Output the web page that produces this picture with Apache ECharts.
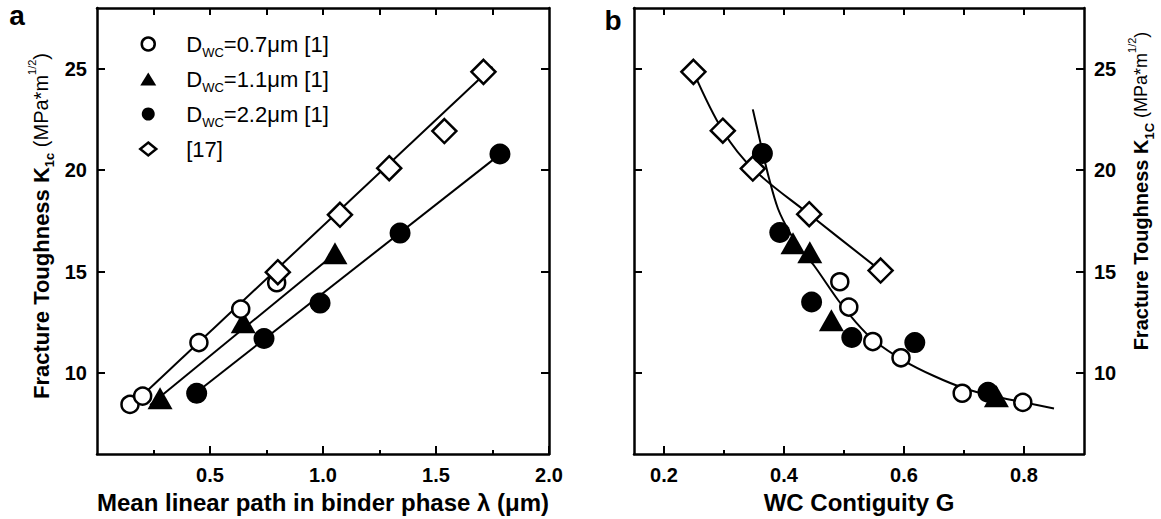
<!DOCTYPE html>
<html><head><meta charset="utf-8">
<script src="https://cdn.jsdelivr.net/npm/echarts@6/dist/echarts.min.js"></script>
<style>html,body{margin:0;padding:0;background:#fff}#c{width:1161px;height:519px}</style>
</head><body><div id="c"></div>
<script>
const FONT = '"Liberation Sans", Arial, Helvetica, sans-serif';

// ---- Panel a : K1c vs mean linear path (lambda, um) ----
const aOpen    = [[0.146, 8.45], [0.202, 8.86], [0.451, 11.5], [0.636, 13.15], [0.795, 14.45]];
const aTri     = [[0.279, 8.75], [0.647, 12.5], [1.053, 15.9]];
const aFilled  = [[0.441, 9.0], [0.739, 11.7], [0.987, 13.45], [1.341, 16.9], [1.783, 20.8]];
const aDiamond = [[0.80, 14.97], [1.075, 17.8], [1.293, 20.1], [1.537, 21.93], [1.71, 24.85]];
const aFitUpper  = [[0.22, 9.1], [1.75, 25.1]];
const aFitMiddle = [[0.235, 8.42], [1.06, 15.95]];
const aFitLower  = [[0.441, 9.05], [1.783, 20.78]];

// ---- Panel b : K1c vs WC contiguity G ----
const bDiamond = [[0.249, 24.85], [0.298, 21.95], [0.348, 20.08], [0.442, 17.83], [0.561, 15.05]];
const bFilled  = [[0.364, 20.83], [0.393, 16.93], [0.446, 13.5], [0.513, 11.75], [0.618, 11.5], [0.74, 9.05]];
const bTri     = [[0.415, 16.4], [0.443, 15.95], [0.479, 12.6], [0.754, 8.85]];
const bOpen    = [[0.493, 14.5], [0.508, 13.25], [0.548, 11.55], [0.595, 10.75], [0.697, 9.0], [0.798, 8.55]];
const bFitDiamond = [[0.249, 24.85], [0.298, 21.95], [0.348, 20.08], [0.442, 17.83], [0.561, 15.05]];
const bFitMain = [[0.348, 23.0], [0.362, 21.2], [0.375, 19.6], [0.39, 18.1], [0.41, 16.9], [0.43, 16.0],
                  [0.45, 15.3], [0.49, 13.6], [0.52, 12.5], [0.55, 11.6], [0.60, 10.6], [0.65, 9.85],
                  [0.70, 9.25], [0.75, 8.85], [0.80, 8.55], [0.85, 8.25]];

// ---- ticks ----
const xTicksA = [0.5, 1.0, 1.5, 2.0];
const xMinorA = [0.25, 0.75, 1.25, 1.75];
const xTopA   = [0.25, 0.5, 0.75, 1.0, 1.25, 1.5, 1.75];
const xTicksB = [0.2, 0.4, 0.6, 0.8];
const xMinorB = [0.3, 0.5, 0.7];
const xTopB   = [0.2, 0.3, 0.4, 0.5, 0.6, 0.7, 0.8];
const yTicks  = [10, 15, 20, 25];

const legendNames = ['DWC=0.7μm [1]', 'DWC=1.1μm [1]', 'DWC=2.2μm [1]', '[17]'];
const xTitleA = 'Mean linear path in binder phase λ (μm)';
const xTitleB = 'WC Contiguity G';

const BLACK = '#000';
const lineSty = {color: BLACK, width: 2.5};
const tickSty = {color: BLACK, width: 2};
const labelSty = {fontSize: 20, fontWeight: 'bold', color: BLACK, fontFamily: FONT};

function xMain(grid, min, max, ticks, name) {
  return {type: 'value', gridIndex: grid, min, max, position: 'bottom',
    name, nameLocation: 'middle', nameGap: 43,
    nameTextStyle: {fontSize: 24, fontWeight: 'bold', color: BLACK, fontFamily: FONT, verticalAlign: 'middle', lineHeight: 24},
    axisLine: {show: true, onZero: false, lineStyle: lineSty},
    axisTick: {show: true, inside: true, length: 8, lineStyle: tickSty, customValues: ticks},
    axisLabel: Object.assign({show: true, customValues: ticks, margin: 21, verticalAlign: 'middle',
      formatter: v => Number(v).toFixed(1)}, labelSty),
    splitLine: {show: false}};
}
function xExtra(grid, min, max, ticks, pos, len, showLine) {
  return {type: 'value', gridIndex: grid, min, max, position: pos,
    axisLine: {show: showLine, onZero: false, lineStyle: lineSty},
    axisTick: {show: true, inside: true, length: len, lineStyle: tickSty, customValues: ticks},
    axisLabel: {show: false}, splitLine: {show: false}};
}
function yAx(grid, pos, labels) {
  return {type: 'value', gridIndex: grid, min: 6, max: 28, position: pos,
    axisLine: {show: true, onZero: false, lineStyle: lineSty},
    axisTick: {show: true, inside: true, length: 8, lineStyle: tickSty, customValues: yTicks},
    axisLabel: Object.assign({show: labels, customValues: yTicks, margin: 10}, labelSty),
    splitLine: {show: false}};
}

function fit(data, xi, yi, smooth) {
  return {type: 'line', data, xAxisIndex: xi, yAxisIndex: yi, symbol: 'none', showSymbol: false,
    smooth: smooth, lineStyle: {color: BLACK, width: 2}, z: 1, silent: true, animation: false};
}
function pts(name, data, xi, yi, symbol, size, open, z) {
  return {type: 'scatter', name, data, xAxisIndex: xi, yAxisIndex: yi, symbol, symbolSize: size,
    itemStyle: open ? {color: '#fff', borderColor: BLACK, borderWidth: 2.5, opacity: 1}
                    : {color: BLACK, borderWidth: 0, opacity: 1},
    z, silent: true, animation: false};
}

const richTok = {
  d: {fontSize: 22, fontFamily: FONT, color: BLACK, lineHeight: 30, verticalAlign: 'middle', padding: [0, 0, 0, 25]},
  m: {fontSize: 22, fontFamily: FONT, color: BLACK, lineHeight: 30, verticalAlign: 'middle'},
  s: {fontSize: 13, fontFamily: FONT, color: BLACK, lineHeight: 30, verticalAlign: 'bottom'}
};

function yTitleRich(mainSize, subTxt, regSize) {
  return {
    text: '{b|Fracture Toughness K}{bs|' + subTxt + '}{r| (MPa*m}{sp|1/2}{r|)}',
    rich: {
      b:  {fontSize: mainSize, fontWeight: 'bold', fontFamily: FONT, fill: BLACK, lineHeight: 30, verticalAlign: 'middle'},
      bs: {fontSize: 13, fontWeight: 'bold', fontFamily: FONT, fill: BLACK, lineHeight: 30, verticalAlign: 'bottom'},
      r:  {fontSize: regSize, fontFamily: FONT, fill: BLACK, lineHeight: 30, verticalAlign: 'middle'},
      sp: {fontSize: 11, fontFamily: FONT, fill: BLACK, lineHeight: 30, verticalAlign: 'top'}
    },
    fill: BLACK, align: 'center', verticalAlign: 'middle'
  };
}

const option = {
  animation: false,
  backgroundColor: '#fff',
  textStyle: {fontFamily: FONT},
  grid: [
    {left: 97, top: 8, width: 452, height: 448, containLabel: false},
    {left: 634, top: 8, width: 450, height: 448, containLabel: false}
  ],
  xAxis: [
    xMain(0, 0, 2, xTicksA, xTitleA),
    xExtra(0, 0, 2, xMinorA, 'bottom', 4, false),
    xExtra(0, 0, 2, xTopA, 'top', 7, true),
    xMain(1, 0.15, 0.9, xTicksB, xTitleB),
    xExtra(1, 0.15, 0.9, xMinorB, 'bottom', 4, false),
    xExtra(1, 0.15, 0.9, xTopB, 'top', 7, true)
  ],
  yAxis: [
    yAx(0, 'left', true),
    yAx(0, 'right', false),
    yAx(1, 'left', false),
    yAx(1, 'right', true)
  ],
  legend: {
    show: true, orient: 'vertical', left: 139, top: 29, padding: 0, itemGap: 5,
    itemWidth: 16, itemHeight: 13, selectedMode: false,
    data: [
      {name: legendNames[0], icon: 'circle', itemStyle: {color: '#fff', borderColor: BLACK, borderWidth: 2.5}},
      {name: legendNames[1], icon: 'triangle', itemStyle: {color: BLACK, borderWidth: 0}},
      {name: legendNames[2], icon: 'circle', itemStyle: {color: BLACK, borderWidth: 0}},
      {name: legendNames[3], icon: 'diamond', itemStyle: {color: '#fff', borderColor: BLACK, borderWidth: 2.5}}
    ],
    formatter: name => name === '[17]' ? '{d|[17]}' : '{d|D}{s|WC}{m|' + name.slice(3) + '}',
    textStyle: {color: BLACK, fontFamily: FONT, fontSize: 22, lineHeight: 30, rich: richTok}
  },
  graphic: [
    {type: 'text', x: 17, y: 15, style: {text: 'a', fontSize: 28, fontWeight: 'bold', fontFamily: FONT, fill: BLACK, align: 'center', verticalAlign: 'middle'}},
    {type: 'text', x: 613, y: 20, style: {text: 'b', fontSize: 28, fontWeight: 'bold', fontFamily: FONT, fill: BLACK, align: 'center', verticalAlign: 'middle'}},
    {type: 'text', x: 41, y: 226, rotation: Math.PI / 2, style: yTitleRich(22, '1c', 20)},
    {type: 'text', x: 1141, y: 191, rotation: Math.PI / 2, style: yTitleRich(20, '1C', 18)}
  ],
  series: [
    fit(aFitUpper, 0, 0, false),
    fit(aFitMiddle, 0, 0, false),
    fit(aFitLower, 0, 0, false),
    pts(legendNames[1], aTri, 0, 0, 'triangle', [25, 22], false, 2),
    pts(legendNames[2], aFilled, 0, 0, 'circle', 21, false, 3),
    pts(legendNames[0], aOpen, 0, 0, 'circle', 17, true, 4),
    pts(legendNames[3], aDiamond, 0, 0, 'diamond', 24, true, 5),

    fit(bFitDiamond, 3, 3, 0.35),
    fit(bFitMain, 3, 3, 0.3),
    pts('b diamond', bDiamond, 3, 3, 'diamond', 24, true, 2),
    pts('b filled', bFilled, 3, 3, 'circle', 21, false, 3),
    pts('b triangle', bTri, 3, 3, 'triangle', [25, 22], false, 4),
    pts('b open', bOpen, 3, 3, 'circle', 17, true, 5)
  ]
};

const chart = echarts.init(document.getElementById('c'), null, {renderer: 'svg'});
chart.setOption(option);
</script>
</body></html>
